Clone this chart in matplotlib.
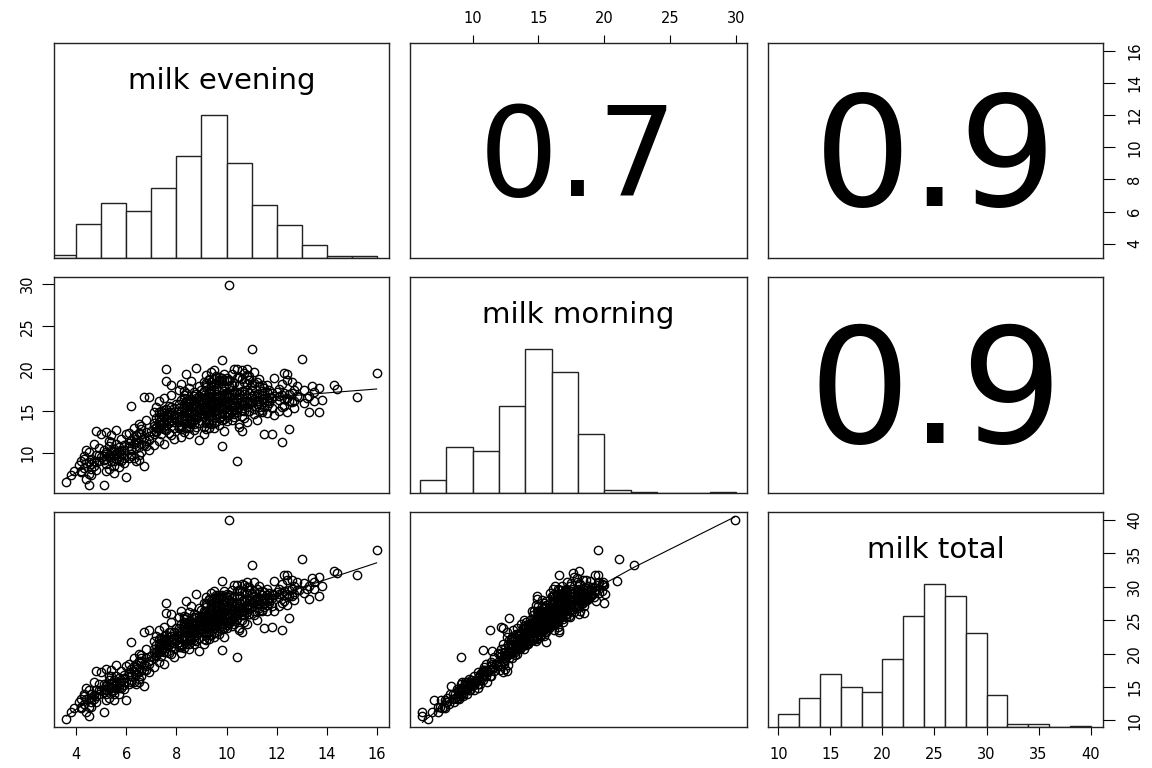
import numpy as np
import matplotlib
matplotlib.use("Agg")
import matplotlib.pyplot as plt
from matplotlib.transforms import ScaledTranslation

plt.rcParams["font.family"] = "DejaVu Sans"

# milk yield per cow (evening, morning)
evening = [
    3.6, 3.9,
    4.1, 4.2, 4.2, 4.3, 4.3, 4.4, 4.5, 4.5, 4.5, 4.6, 4.6, 4.7, 4.7, 4.8, 4.8, 4.8, 4.9, 4.9, 5.0, 5.0,
    5.1, 5.1, 5.1, 5.2, 5.2, 5.2, 5.3, 5.3, 5.3, 5.4, 5.4, 5.4, 5.4, 5.5, 5.5, 5.5, 5.5,
    5.6, 5.6, 5.6, 5.6, 5.7, 5.7, 5.7, 5.8, 5.8, 5.8, 5.9, 5.9, 5.9, 6.0, 6.0,
    6.1, 6.1, 6.1, 6.2, 6.2, 6.2, 6.3, 6.3, 6.3, 6.4, 6.4, 6.4, 6.5, 6.5, 6.5,
    6.6, 6.6, 6.6, 6.7, 6.7, 6.7, 6.8, 6.8, 6.8, 6.9, 6.9, 6.9, 7.0,
    7.1, 7.1, 7.1, 7.1, 7.2, 7.2, 7.2, 7.2, 7.3, 7.3, 7.3, 7.3, 7.3, 7.4, 7.4, 7.4, 7.4, 7.4,
    7.5, 7.5, 7.5, 7.5, 7.5, 7.5, 7.6, 7.6, 7.6, 7.6, 7.6, 7.7, 7.7, 7.7, 7.7,
    7.8, 7.8, 7.8, 7.8, 7.8, 7.9, 7.9, 7.9, 7.9, 8.0, 8.0,
    8.1, 8.1, 8.1, 8.1, 8.1, 8.1, 8.2, 8.2, 8.2, 8.2, 8.2, 8.2,
    8.3, 8.3, 8.3, 8.3, 8.3, 8.3, 8.3, 8.4, 8.4, 8.4, 8.4, 8.4, 8.4,
    8.5, 8.5, 8.5, 8.5, 8.5, 8.5, 8.5, 8.5, 8.6, 8.6, 8.6, 8.6, 8.6, 8.6,
    8.7, 8.7, 8.7, 8.7, 8.7, 8.7, 8.7, 8.8, 8.8, 8.8, 8.8, 8.8, 8.8,
    8.9, 8.9, 8.9, 8.9, 8.9, 8.9, 8.9, 9.0, 9.0, 9.0, 9.0,
    9.1, 9.1, 9.1, 9.1, 9.1, 9.1, 9.1, 9.1, 9.1, 9.2, 9.2, 9.2, 9.2, 9.2, 9.2, 9.2, 9.2, 9.2,
    9.3, 9.3, 9.3, 9.3, 9.3, 9.3, 9.3, 9.3, 9.3, 9.4, 9.4, 9.4, 9.4, 9.4, 9.4, 9.4, 9.4, 9.4,
    9.5, 9.5, 9.5, 9.5, 9.5, 9.5, 9.5, 9.5, 9.5, 9.6, 9.6, 9.6, 9.6, 9.6, 9.6, 9.6, 9.6, 9.6,
    9.7, 9.7, 9.7, 9.7, 9.7, 9.7, 9.7, 9.7, 9.7, 9.8, 9.8, 9.8, 9.8, 9.8, 9.8, 9.8, 9.8, 9.8,
    9.9, 9.9, 9.9, 9.9, 9.9, 9.9, 9.9, 9.9, 9.9, 10.0, 10.0, 10.0, 10.0, 10.0, 10.0, 10.0, 10.0,
    10.1, 10.1, 10.1, 10.1, 10.1, 10.1, 10.2, 10.2, 10.2, 10.2, 10.2, 10.2,
    10.3, 10.3, 10.3, 10.3, 10.3, 10.3, 10.3, 10.4, 10.4, 10.4, 10.4, 10.4, 10.4,
    10.5, 10.5, 10.5, 10.5, 10.5, 10.5, 10.5, 10.6, 10.6, 10.6, 10.6, 10.6, 10.6,
    10.7, 10.7, 10.7, 10.7, 10.7, 10.7, 10.8, 10.8, 10.8, 10.8, 10.8, 10.8,
    10.9, 10.9, 10.9, 10.9, 10.9, 10.9, 11.0, 11.0, 11.0,
    11.1, 11.1, 11.1, 11.1, 11.1, 11.2, 11.2, 11.2, 11.2, 11.3, 11.3, 11.3, 11.3,
    11.4, 11.4, 11.4, 11.4, 11.5, 11.5, 11.5, 11.5, 11.6, 11.6, 11.6, 11.7, 11.7, 11.7,
    11.8, 11.8, 11.8, 11.9, 11.9, 12.0,
    12.1, 12.1, 12.1, 12.2, 12.2, 12.2, 12.3, 12.3, 12.3, 12.4, 12.4, 12.4,
    12.5, 12.5, 12.6, 12.6, 12.7, 12.7, 12.8, 13.0,
    13.1, 13.1, 13.3, 13.3, 13.5, 13.5, 13.7, 13.7,
    14.3, 14.4, 15.2, 16.0,
    # dense cores
    3.8,
    4.2, 4.3, 4.4, 4.5, 4.6, 4.7, 4.8, 4.9, 4.4,
    5.1, 5.2, 5.2, 5.3, 5.4, 5.5, 5.5, 5.6, 5.7, 5.7, 5.8, 5.9, 5.3,
    6.1, 6.2, 6.3, 6.4, 6.5, 6.5, 6.6, 6.7, 6.8, 6.9, 6.6,
    7.1, 7.2, 7.2, 7.3, 7.3, 7.4, 7.4, 7.5, 7.5, 7.6, 7.6, 7.7, 7.7, 7.8, 7.8, 7.9, 7.9,
    8.1, 8.1, 8.2, 8.2, 8.3, 8.3, 8.3, 8.4, 8.4, 8.5, 8.5, 8.5, 8.6,
    8.6, 8.6, 8.7, 8.7, 8.8, 8.8, 8.8, 8.9, 8.9, 9.0, 9.0, 8.4, 8.7,
    9.1, 9.1, 9.1, 9.2, 9.2, 9.2, 9.3, 9.3, 9.3, 9.4, 9.4, 9.4, 9.5, 9.5, 9.5, 9.6, 9.6, 9.6,
    9.7, 9.7, 9.7, 9.8, 9.8, 9.8, 9.9, 9.9, 9.9, 10.0, 10.0, 10.0, 9.2, 9.4, 9.6, 9.8, 9.5, 9.9,
    10.1, 10.1, 10.2, 10.2, 10.3, 10.3, 10.4, 10.4, 10.5, 10.5, 10.6, 10.6,
    10.7, 10.7, 10.8, 10.8, 10.9, 10.9, 11.0, 11.0, 10.3, 10.6, 10.2, 10.8,
    11.1, 11.2, 11.2, 11.3, 11.3, 11.4, 11.5, 11.6, 11.6, 11.7, 11.8, 11.9, 11.4,
    12.1, 12.2, 12.3, 12.4, 12.5, 12.6, 12.7, 12.8, 12.9,
    13.2, 13.4, 13.8,
    4.6, 5.2, 5.6, 5.9, 6.2, 6.4,
]
morning = [
    6.6, 7.9,
    8.6, 9.0, 7.7, 8.2, 9.6, 6.9, 6.2, 8.9, 10.1, 9.3, 7.4, 8.5, 11.1, 9.8, 12.6, 8.0, 9.1, 10.6, 12.3, 9.5,
    6.2, 9.2, 10.4, 8.7, 9.9, 12.5, 9.5, 10.8, 8.1, 9.0, 10.2, 11.3, 12.1, 9.7, 8.5, 10.5, 7.6,
    9.3, 10.0, 11.0, 12.7, 8.3, 9.6, 10.7, 9.1, 10.3, 11.6, 9.8, 8.8, 10.9, 7.1, 12.2,
    9.4, 10.8, 12.4, 9.9, 11.5, 15.6, 9.4, 11.9, 13.0, 9.1, 10.6, 12.1, 9.2, 9.7, 13.4,
    10.1, 12.3, 12.8, 8.4, 10.9, 16.6, 11.4, 12.5, 13.9, 10.4, 16.6, 12.0, 12.6,
    12.3, 13.6, 10.9, 14.8, 13.1, 12.9, 15.4, 12.6, 14.2, 12.9, 13.7, 16.2, 11.4, 13.3, 14.6, 12.2, 15.0, 13.9,
    12.8, 14.4, 16.5, 13.5, 11.0, 14.7, 14.0, 20.0, 15.2, 12.7, 18.5, 13.8, 15.6, 12.4, 14.3,
    14.9, 13.2, 16.9, 18.1, 12.1, 15.3, 13.7, 14.5, 11.6, 15.8, 14.1,
    14.6, 13.2, 12.9, 15.3, 17.4, 13.7, 15.0, 13.3, 12.8, 14.2, 18.2, 11.9,
    15.7, 14.4, 12.5, 16.9, 13.8, 15.1, 17.3, 14.9, 17.1, 13.0, 16.0, 15.5, 19.4,
    15.2, 13.6, 16.4, 14.1, 17.7, 12.2, 15.9, 14.9, 14.7, 16.2, 13.4, 15.4, 18.5, 14.0,
    16.8, 15.6, 13.9, 14.5, 17.2, 12.7, 15.9, 15.8, 14.3, 16.5, 13.1, 20.1, 15.0,
    16.3, 14.8, 17.9, 13.5, 15.3, 11.5, 16.7, 16.0, 14.6, 17.5, 15.7,
    15.9, 14.2, 17.3, 16.5, 13.1, 18.4, 15.1, 16.9, 12.3, 16.2, 14.8, 17.8, 15.5, 13.6, 19.2, 12.8, 14.0, 18.1,
    15.3, 16.8, 14.5, 17.1, 13.9, 15.8, 18.7, 12.9, 13.5, 16.0, 14.9, 17.5, 15.6, 19.6, 13.4, 16.6, 15.2, 17.9,
    15.4, 18.8, 14.3, 18.2, 16.1, 13.0, 17.4, 15.0, 19.8, 16.4, 15.7, 17.0, 14.6, 18.9, 16.2, 13.7, 15.1, 17.7,
    15.9, 18.6, 14.1, 16.5, 19.0, 15.3, 16.8, 13.3, 18.3, 16.1, 14.7, 17.6, 15.5, 21.0, 16.9, 14.4, 10.8, 18.6,
    15.8, 17.3, 16.3, 14.0, 18.0, 15.2, 16.7, 12.6, 19.4, 16.6, 15.4, 18.9, 14.8, 16.0, 18.5, 13.8, 17.1,
    29.9, 16.8, 15.2, 17.9, 14.5, 18.6, 16.3, 17.5, 15.0, 19.3, 13.9, 16.9,
    17.2, 15.6, 18.3, 14.2, 16.4, 20.0, 17.0, 16.0, 9.1, 19.9, 15.3, 18.9, 14.8,
    17.0, 15.9, 16.6, 19.0, 13.4, 18.1, 13.1, 16.2, 19.8, 15.1, 18.8, 14.4, 12.6,
    17.3, 15.7, 19.5, 16.1, 14.1, 18.4, 16.5, 19.2, 15.4, 19.9, 13.7, 17.4,
    17.1, 16.0, 18.6, 15.0, 19.1, 15.8, 16.7, 22.3, 17.5,
    16.4, 19.6, 15.2, 18.3, 14.6, 17.0, 15.8, 16.7, 13.9, 16.1, 17.9, 15.5, 18.8,
    16.9, 14.9, 17.3, 15.1, 12.3, 16.5, 17.7, 15.4, 16.2, 18.1, 14.7, 17.4, 15.9, 16.6,
    12.2, 17.1, 15.3, 16.8, 14.5, 17.2,
    16.3, 17.6, 15.0, 11.3, 16.9, 18.2, 19.5, 15.6, 17.1, 16.5, 14.8, 19.3,
    12.8, 17.0, 16.0, 18.4, 15.3, 17.4, 16.7, 21.1,
    17.5, 15.9, 14.9, 16.8, 17.2, 16.1, 14.9, 17.7,
    18.1, 17.6, 16.6, 19.5,
    # dense cores
    7.4,
    7.8, 9.3, 8.8, 7.5, 8.7, 9.1, 8.9, 9.7, 10.4,
    9.6, 10.1, 7.9, 9.8, 9.5, 10.2, 9.0, 9.7, 10.1, 9.2, 9.9, 10.4, 11.4,
    11.2, 10.5, 11.1, 11.6, 10.7, 12.4, 11.0, 11.8, 10.8, 11.5, 13.2,
    13.2, 14.1, 12.5, 13.4, 14.9, 13.0, 14.2, 13.8, 15.1, 13.3, 14.5, 13.6, 14.8, 13.9, 15.5, 14.2, 12.9,
    14.2, 15.8, 16.3, 13.1, 14.0, 15.4, 16.5, 16.2, 15.9, 16.0, 15.6, 12.9, 13.8,
    15.0, 13.5, 14.8, 16.1, 14.0, 15.5, 17.0, 14.4, 15.8, 15.2, 16.4, 13.6, 13.4,
    15.5, 16.2, 14.6, 15.1, 16.5, 18.3, 15.0, 16.2, 18.8, 14.4, 16.3, 17.1, 15.8, 16.6, 14.8, 15.4, 16.8, 19.1,
    14.6, 16.1, 18.5, 15.2, 16.4, 18.9, 14.6, 15.6, 17.0, 15.8, 16.9, 14.3, 13.9, 18.4, 18.2, 13.9, 13.6, 18.6,
    15.2, 18.7, 15.7, 18.1, 15.4, 15.1, 17.2, 16.4, 15.5, 19.0, 15.1, 15.8,
    17.0, 15.0, 15.9, 18.2, 15.0, 18.6, 16.0, 18.1, 14.6, 17.3, 14.9, 16.2,
    16.9, 16.2, 18.4, 15.0, 16.6, 18.0, 16.0, 17.2, 15.6, 16.2, 16.5, 18.9, 16.4,
    16.8, 15.4, 16.4, 18.6, 16.1, 17.1, 16.2, 17.9, 16.6,
    16.5, 17.9, 16.3,
    8.1, 9.3, 9.9, 9.4, 9.6, 11.3,
]

names = ["milk evening", "milk morning", "milk total"]
cor_text = ["0.7", "0.9", "0.9"]  # as printed in the upper panels
ev_breaks = list(range(3, 17))
mo_breaks = list(range(6, 32, 2))
to_breaks = list(range(10, 42, 2))
ev_ticks = [4, 6, 8, 10, 12, 14, 16]
mo_ticks = [10, 15, 20, 25, 30]
to_ticks = [10, 15, 20, 25, 30, 35, 40]


def lowess(x, y, f=2 / 3, iters=3):
    order = np.argsort(x, kind="stable")
    x, y = x[order], y[order]
    n = len(x)
    ns = max(min(int(round(f * n)), n), 2)
    rob = np.ones(n)
    fit = np.zeros(n)
    for _ in range(iters + 1):
        for i in range(n):
            d = np.abs(x - x[i])
            h = np.sort(d)[ns - 1]
            u = np.clip(d / max(h, 1e-12), 0, 1)
            w = (1 - u ** 3) ** 3 * rob
            sw = w.sum()
            xm = (w * x).sum() / sw
            ym = (w * y).sum() / sw
            sxx = (w * (x - xm) ** 2).sum()
            b = (w * (x - xm) * (y - ym)).sum() / sxx if sxx > 1e-9 else 0.0
            fit[i] = ym + b * (x[i] - xm)
        res = y - fit
        s = np.median(np.abs(res))
        u = np.clip(res / (6 * s), -1, 1)
        rob = (1 - u ** 2) ** 2
    return x, fit


def r_counts(x, br):
    # right-closed bins like R's hist()
    idx = np.searchsorted(br, x, side="left") - 1
    idx[idx < 0] = 0
    return np.bincount(idx, minlength=len(br) - 1)[: len(br) - 1]


ev = np.array(evening)
mo = np.array(morning)
to = np.round(ev + mo, 1)
data = [ev, mo, to]
breaks = [ev_breaks, mo_breaks, to_breaks]
ticks = [ev_ticks, mo_ticks, to_ticks]

lims = []
for v in data:
    pad = 0.04 * (v.max() - v.min())
    lims.append((v.min() - pad, v.max() + pad))

W, H = 1152, 768
fig = plt.figure(figsize=(W / 100, H / 100), dpi=100)
col_px = [(54, 389), (410, 747), (768, 1103)]
row_px = [(43, 258), (277, 493), (512, 727)]

xtp = dict(direction="out", length=5.5, width=0.8, labelsize=10.5, colors="black")
ytp = dict(direction="out", length=8.5, width=0.8, labelsize=10.5, colors="black",
           labelrotation=90)


def right_axis(ax, r, diag):
    if diag:
        # the histogram uses its own 0..1.5 scale, so put the variable's axis on an overlay
        tax = fig.add_axes(ax.get_position().bounds)
        tax.patch.set_visible(False)
        for sp in tax.spines.values():
            sp.set_visible(False)
        tax.set_xticks([])
        tax.set_ylim(lims[r])
    else:
        tax = ax
    tax.yaxis.tick_right()
    tax.set_yticks(ticks[r])
    tax.tick_params(axis="y", pad=9, **ytp)
    for lab in tax.get_yticklabels():
        lab.set_va("center")


k = 0
for r in range(3):
    for c in range(3):
        x0, x1 = col_px[c]
        y0, y1 = row_px[r]
        ax = fig.add_axes([x0 / W, 1 - y1 / H, (x1 - x0) / W, (y1 - y0) / H])
        ax.set_xlim(lims[c])
        ax.set_xticks([])
        ax.set_yticks([])
        for sp in ax.spines.values():
            sp.set_linewidth(1.0)
            sp.set_color("#222222")

        if r == c:
            br = np.array(breaks[c], dtype=float)
            cnt = r_counts(data[c], br)
            ax.bar(br[:-1], cnt / cnt.max(), width=np.diff(br), align="edge",
                   color="white", edgecolor="#222222", linewidth=1.0)
            ax.set_ylim(0, 1.5)
            ax.text(0.5, 0.785, names[c], transform=ax.transAxes, ha="center",
                    va="baseline", fontsize=21)
        elif r > c:
            ax.set_ylim(lims[r])
            ax.plot(data[c], data[r], "o", mfc="none", mec="black", ms=6, mew=1.0)
            lx, ly = lowess(data[c], data[r])
            ax.plot(lx, ly, color="black", lw=0.8)
        else:
            ax.set_ylim(lims[r])
            rr = abs(np.corrcoef(data[r], data[c])[0, 1])
            fs = 121 * rr
            tr = ax.transAxes + ScaledTranslation(0, -0.3645 * fs / 72, fig.dpi_scale_trans)
            ax.text(0.5, 0.5, cor_text[k], transform=tr, ha="center", va="baseline",
                    fontsize=fs)
            k += 1

        if r == 0 and c == 1:
            ax.xaxis.tick_top()
            ax.set_xticks(ticks[c])
            ax.tick_params(axis="x", pad=7, **xtp)
        if r == 2 and c in (0, 2):
            ax.set_xticks(ticks[c])
            ax.tick_params(axis="x", pad=9, **xtp)
        if c == 0 and r == 1:
            ax.set_yticks(ticks[r])
            ax.tick_params(axis="y", pad=5, **ytp)
            for lab in ax.get_yticklabels():
                lab.set_va("center")
        if c == 2 and r in (0, 2):
            right_axis(ax, r, r == c)

fig.savefig("out.png", dpi=100, facecolor="white")
